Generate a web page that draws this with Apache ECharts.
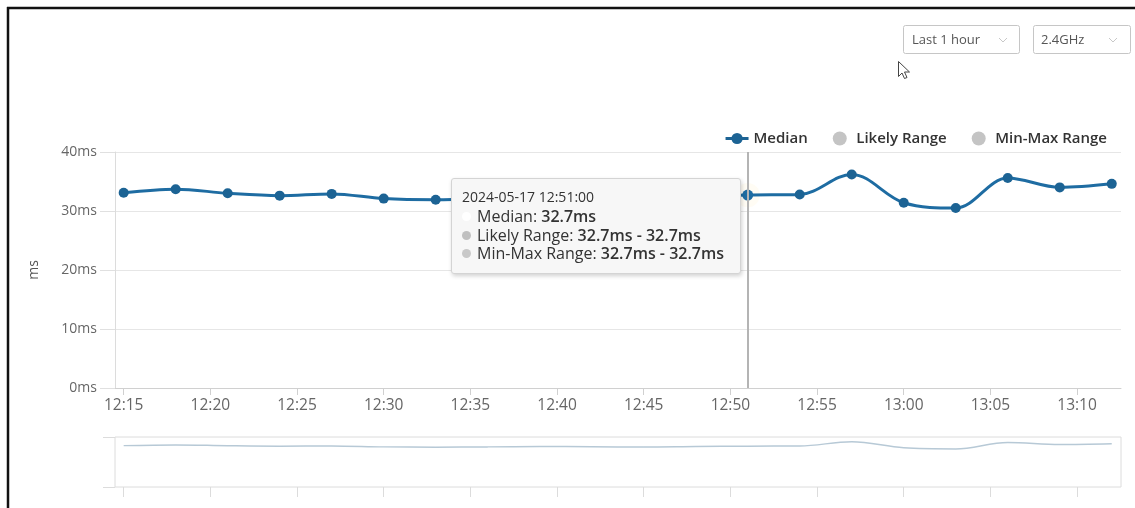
<!DOCTYPE html>
<html>
<head>
<meta charset="utf-8">
<script src="https://cdn.jsdelivr.net/npm/echarts@6/dist/echarts.min.js"></script>
<style>
  html, body { margin: 0; padding: 0; background: #fff; }
  #chart { width: 1135px; height: 508px; }
</style>
</head>
<body>
<div id="chart"></div>
<script>
// Sample times (every 3 minutes) and the latency series, in ms
const dateLabel = '2024-05-17';
const times = ['12:15','12:18','12:21','12:24','12:27','12:30','12:33','12:36','12:39','12:42',
               '12:45','12:48','12:51','12:54','12:57','13:00','13:03','13:06','13:09','13:12'];
const median = [33.1, 33.7, 33.0, 32.6, 32.9, 32.1, 31.9, 32.1, 32.4, 32.2,
                32.0, 32.4, 32.7, 32.8, 36.2, 31.4, 30.5, 35.6, 34.0, 34.6];
const likelyLow  = [33.1, 33.7, 33.0, 32.6, 32.9, 32.1, 31.9, 32.1, 32.4, 32.2,
                    32.0, 32.4, 32.7, 32.8, 36.2, 31.4, 30.5, 35.6, 34.0, 34.6];
const likelyHigh = [33.1, 33.7, 33.0, 32.6, 32.9, 32.1, 31.9, 32.1, 32.4, 32.2,
                    32.0, 32.4, 32.7, 32.8, 36.2, 31.4, 30.5, 35.6, 34.0, 34.6];
const minMaxLow  = [33.1, 33.7, 33.0, 32.6, 32.9, 32.1, 31.9, 32.1, 32.4, 32.2,
                    32.0, 32.4, 32.7, 32.8, 36.2, 31.4, 30.5, 35.6, 34.0, 34.6];
const minMaxHigh = [33.1, 33.7, 33.0, 32.6, 32.9, 32.1, 31.9, 32.1, 32.4, 32.2,
                    32.0, 32.4, 32.7, 32.8, 36.2, 31.4, 30.5, 35.6, 34.0, 34.6];
const tickLabels = ['12:15','12:20','12:25','12:30','12:35','12:40','12:45','12:50','12:55','13:00','13:05','13:10'];
const yTicks = [0, 10, 20, 30, 40];
const hoverTime = '12:51';
const rangeStart = '12:14:30';
const rangeEnd = '13:12:32';

// clock time -> minutes after midnight
function toMin(s) {
  const p = s.split(':').map(Number);
  return p[0] * 60 + p[1] + (p[2] || 0) / 60;
}
function fmtTime(v) {
  const h = Math.floor(v / 60);
  const m = Math.round(v - h * 60);
  return String(h).padStart(2, '0') + ':' + String(m).padStart(2, '0');
}

const ts = times.map(toMin);
const tickTs = tickLabels.map(toMin);
const hoverIndex = times.indexOf(hoverTime);
const FONT = '"Open Sans", "Noto Sans", sans-serif';
const BLUE = '#1c6394';
const GREY = '#c4c4c4';

// Band drawn between a low and a high array, segment by segment
function bandRenderer(lo, hi, color) {
  return function (params, api) {
    const i = params.dataIndex;
    if (i >= ts.length - 1) return null;
    const pts = [
      api.coord([ts[i], lo[i]]), api.coord([ts[i + 1], lo[i + 1]]),
      api.coord([ts[i + 1], hi[i + 1]]), api.coord([ts[i], hi[i]])
    ];
    return { type: 'polygon', shape: { points: pts }, style: { fill: color, opacity: 0.5 } };
  };
}

function dot(color) {
  return '<span style="display:inline-block;width:9px;height:9px;border-radius:50%;background:' + color +
         ';margin-right:6px;vertical-align:1px;"></span>';
}

const chart = echarts.init(document.getElementById('chart'), null, { renderer: 'canvas' });

const xCommon = {
  type: 'value',
  min: toMin(rangeStart),
  max: toMin(rangeEnd),
  splitLine: { show: false }
};

chart.setOption({
  animation: false,
  textStyle: { fontFamily: FONT },
  grid: [
    { left: 115, right: 14, top: 152, height: 236 },
    { left: 115, right: 14, top: 437, height: 50, show: true, borderColor: '#dcdcdc', borderWidth: 1 }
  ],
  legend: {
    right: 23,
    top: 126,
    itemWidth: 23,
    itemHeight: 14,
    itemGap: 25,
    textStyle: { fontFamily: FONT, fontSize: 15, fontWeight: 600, color: '#333' },
    data: [
      { name: 'Median', lineStyle: { width: 3 } },
      { name: 'Likely Range', icon: 'circle', itemStyle: { color: GREY } },
      { name: 'Min-Max Range', icon: 'circle', itemStyle: { color: GREY } }
    ]
  },
  tooltip: {
    trigger: 'axis',
    triggerOn: 'none',
    alwaysShowContent: true,
    backgroundColor: '#f7f7f7',
    borderColor: '#d4d4d4',
    borderWidth: 1,
    padding: [9, 16, 10, 10],
    extraCssText: 'box-shadow: 1px 2px 4px rgba(0,0,0,0.18); border-radius: 3px;',
    axisPointer: { type: 'line', lineStyle: { color: '#b4b4b4', width: 2, type: 'solid' } },
    position: function (point, params, dom, rect, size) {
      return [point[0] - size.contentSize[0] - 7, point[1] - 17];
    },
    formatter: function () {
      const i = hoverIndex;
      const ff = 'font-family:' + FONT.replace(/"/g, "'") + ';';
      const row = 'font-size:16px;line-height:18.5px;color:#333;' + ff;
      const val = 'font-weight:600;';
      return '<div style="font-size:14px;line-height:18px;color:#333;margin-bottom:1px;' + ff + '">' +
               dateLabel + ' ' + times[i] + ':00</div>' +
             '<div style="' + row + '">' + dot('#ffffff') + 'Median: <span style="' + val + '">' + median[i] + 'ms</span></div>' +
             '<div style="' + row + '">' + dot('#c0c0c0') + 'Likely Range: <span style="' + val + '">' +
               likelyLow[i] + 'ms - ' + likelyHigh[i] + 'ms</span></div>' +
             '<div style="' + row + '">' + dot('#c8c8c8') + 'Min-Max Range: <span style="' + val + '">' +
               minMaxLow[i] + 'ms - ' + minMaxHigh[i] + 'ms</span></div>';
    }
  },
  xAxis: [
    Object.assign({}, xCommon, {
      gridIndex: 0,
      axisLine: { show: true, lineStyle: { color: '#d0d0d0', width: 1 } },
      axisTick: { show: true, length: 7, lineStyle: { color: '#d0d0d0' }, customValues: tickTs },
      axisLabel: {
        customValues: tickTs,
        formatter: fmtTime,
        margin: 10,
        fontFamily: FONT,
        fontSize: 15.5,
        color: '#666'
      }
    }),
    Object.assign({}, xCommon, {
      gridIndex: 1,
      axisLine: { show: false },
      axisTick: { show: true, length: 10, lineStyle: { color: '#dcdcdc' }, customValues: tickTs },
      axisLabel: { show: false, customValues: tickTs }
    })
  ],
  yAxis: [
    {
      gridIndex: 0,
      type: 'value',
      name: 'ms',
      nameLocation: 'middle',
      nameGap: 74,
      nameTextStyle: { fontFamily: FONT, fontSize: 14, color: '#555' },
      min: yTicks[0],
      max: yTicks[yTicks.length - 1],
      interval: 10,
      axisLine: { show: true, lineStyle: { color: '#dcdcdc' } },
      axisTick: { show: true, length: 15, lineStyle: { color: '#e0e0e0' } },
      splitLine: { lineStyle: { color: '#e6e6e6' } },
      axisLabel: { formatter: '{value}ms', margin: 18, fontFamily: FONT, fontSize: 14, color: '#666' }
    },
    {
      gridIndex: 1,
      type: 'value',
      min: 0,
      max: 40,
      interval: 40,
      axisLine: { show: false },
      axisTick: { show: true, length: 12, lineStyle: { color: '#dcdcdc' } },
      splitLine: { show: false },
      axisLabel: { show: false }
    }
  ],
  series: [
    {
      name: 'Median',
      type: 'line',
      xAxisIndex: 0,
      yAxisIndex: 0,
      data: ts.map((t, i) => [t, median[i]]),
      smooth: 0.35,
      symbol: 'circle',
      symbolSize: 10,
      showAllSymbol: true,
      color: BLUE,
      lineStyle: { width: 3, color: BLUE },
      itemStyle: { color: BLUE },
      z: 5
    },
    {
      name: 'Likely Range',
      type: 'custom',
      xAxisIndex: 0,
      yAxisIndex: 0,
      color: GREY,
      renderItem: bandRenderer(likelyLow, likelyHigh, '#b0b0b0'),
      data: ts.map((t, i) => [t, likelyLow[i], likelyHigh[i]]),
      encode: { x: 0, y: [1, 2] },
      z: 2
    },
    {
      name: 'Min-Max Range',
      type: 'custom',
      xAxisIndex: 0,
      yAxisIndex: 0,
      color: GREY,
      renderItem: bandRenderer(minMaxLow, minMaxHigh, '#d6d6d6'),
      data: ts.map((t, i) => [t, minMaxLow[i], minMaxHigh[i]]),
      encode: { x: 0, y: [1, 2] },
      z: 1
    },
    {
      // soft halo behind the hovered sample
      name: 'hover',
      type: 'scatter',
      xAxisIndex: 0,
      yAxisIndex: 0,
      data: [[ts[hoverIndex], median[hoverIndex]]],
      symbolSize: 22,
      itemStyle: { color: 'rgba(236,226,210,0.55)' },
      silent: true,
      z: 4
    },
    {
      name: 'Navigator',
      type: 'line',
      xAxisIndex: 1,
      yAxisIndex: 1,
      data: ts.map((t, i) => [t, median[i]]),
      smooth: 0.35,
      showSymbol: false,
      lineStyle: { width: 1.5, color: '#b7c9d6' },
      silent: true
    }
  ],
  graphic: [
    // outer frame
    { type: 'line', shape: { x1: 7, y1: 8, x2: 1135, y2: 8 }, style: { stroke: '#111', lineWidth: 2.5 } },
    { type: 'line', shape: { x1: 8, y1: 7, x2: 8, y2: 508 }, style: { stroke: '#111', lineWidth: 2.5 } },
    // range selectors
    { type: 'rect', shape: { x: 903.5, y: 25.5, width: 116, height: 28, r: 2 },
      style: { fill: '#fff', stroke: '#c6c6c6', lineWidth: 1 } },
    { type: 'text', x: 912, y: 40, style: { text: 'Last 1 hour', fill: '#555', font: '13px ' + FONT, verticalAlign: 'middle' } },
    { type: 'polyline', shape: { points: [[999, 38], [1003, 42], [1007, 38]] }, style: { stroke: '#c8c8c8', lineWidth: 1 } },
    { type: 'rect', shape: { x: 1033.5, y: 25.5, width: 97, height: 28, r: 2 },
      style: { fill: '#fff', stroke: '#c6c6c6', lineWidth: 1 } },
    { type: 'text', x: 1041, y: 40, style: { text: '2.4GHz', fill: '#555', font: '13px ' + FONT, verticalAlign: 'middle' } },
    { type: 'polyline', shape: { points: [[1109, 38], [1113, 42], [1117, 38]] }, style: { stroke: '#c8c8c8', lineWidth: 1 } },
    // mouse pointer
    { type: 'polygon', x: 898.5, y: 61.5,
      shape: { points: [[0, 0], [0, 15], [3.5, 11.5], [6, 17], [8.5, 16], [6, 10.5], [11, 10.5]] },
      style: { fill: '#fff', stroke: '#444', lineWidth: 1 } }
  ]
});

chart.dispatchAction({ type: 'showTip', seriesIndex: 0, dataIndex: hoverIndex });
</script>
</body>
</html>
